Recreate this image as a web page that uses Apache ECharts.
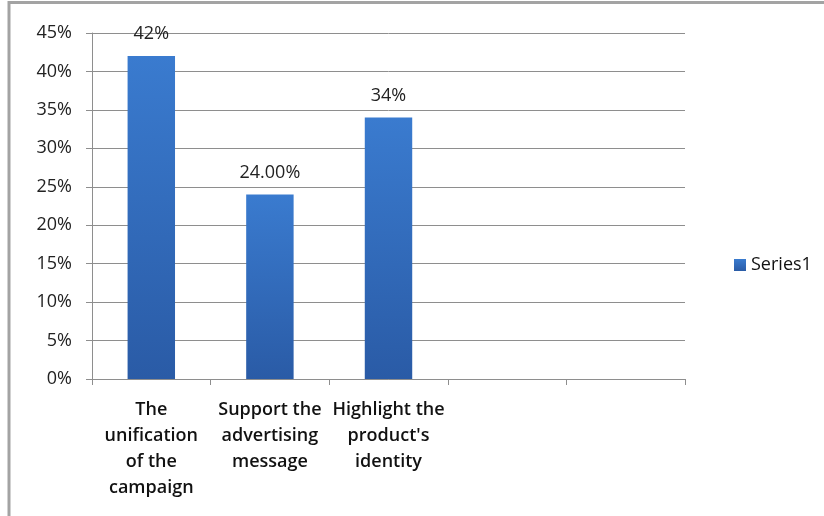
<!DOCTYPE html>
<html>
<head>
<meta charset="utf-8">
<script src="https://cdn.jsdelivr.net/npm/echarts@6/dist/echarts.min.js"></script>
<style>
  html, body { margin: 0; padding: 0; background: #fff; }
  #chart { width: 824px; height: 516px; }
</style>
</head>
<body>
<div id="chart"></div>
<script>
// Categories (two trailing empty slots keep the axis at five positions)
const categories = [
  'The\nunification\nof the\ncampaign',
  'Support the\nadvertising\nmessage',
  'Highlight the\nproduct\'s\nidentity',
  '',
  ''
];
// Share of respondents, in percent
const series1Values = [42, 24, 34, null, null];
// Text printed above each bar
const valueLabels = ['42%', '24.00%', '34%', '', ''];
// Y axis range and step, in percent
const yMin = 0;
const yMax = 45;
const yStep = 5;

const FONT = '"Open Sans", Lato, sans-serif';
const GRID_GRAY = '#8e8e8e';

const chart = echarts.init(document.getElementById('chart'), null, { renderer: 'canvas' });

chart.setOption({
  backgroundColor: '#ffffff',
  animation: false,
  textStyle: { fontFamily: FONT },
  graphic: [
    {
      // outer frame around the chart area
      type: 'rect',
      shape: { x: 9, y: 2.5, width: 900, height: 600 },
      style: { fill: 'none', stroke: '#a3a3a3', lineWidth: 3 },
      silent: true
    }
  ],
  grid: { left: 92, right: 139, top: 33, bottom: 137, containLabel: false },
  legend: {
    data: ['Series1'],
    left: 729,
    top: 251,
    icon: 'rect',
    itemWidth: 12,
    itemHeight: 12,
    textStyle: { fontFamily: FONT, fontSize: 18, color: '#111' }
  },
  xAxis: {
    type: 'category',
    data: categories,
    boundaryGap: true,
    axisLine: { lineStyle: { color: GRID_GRAY, width: 1 } },
    axisTick: { show: true, length: 6, lineStyle: { color: GRID_GRAY } },
    axisLabel: {
      interval: 0,
      margin: 18,
      lineHeight: 26,
      fontFamily: FONT,
      fontSize: 18,
      fontWeight: 600,
      color: '#111',
      align: 'center'
    },
    splitLine: { show: false }
  },
  yAxis: {
    type: 'value',
    min: yMin,
    max: yMax,
    interval: yStep,
    axisLine: { show: true, lineStyle: { color: GRID_GRAY, width: 1 } },
    axisTick: { show: true, length: 6, lineStyle: { color: GRID_GRAY } },
    axisLabel: {
      margin: 20,
      fontFamily: FONT,
      fontSize: 18,
      color: '#222',
      formatter: v => v + '%'
    },
    splitLine: { show: true, lineStyle: { color: GRID_GRAY, width: 1 } }
  },
  series: [
    {
      name: 'Series1',
      type: 'bar',
      data: series1Values,
      barWidth: '40%',
      itemStyle: {
        color: new echarts.graphic.LinearGradient(0, 0, 0, 1, [
          { offset: 0, color: '#3a7bcf' },
          { offset: 1, color: '#2a5ba6' }
        ])
      },
      label: {
        show: true,
        position: 'top',
        distance: 13,
        fontFamily: FONT,
        fontSize: 18,
        color: '#222',
        formatter: p => valueLabels[p.dataIndex]
      }
    }
  ]
});
</script>
</body>
</html>
